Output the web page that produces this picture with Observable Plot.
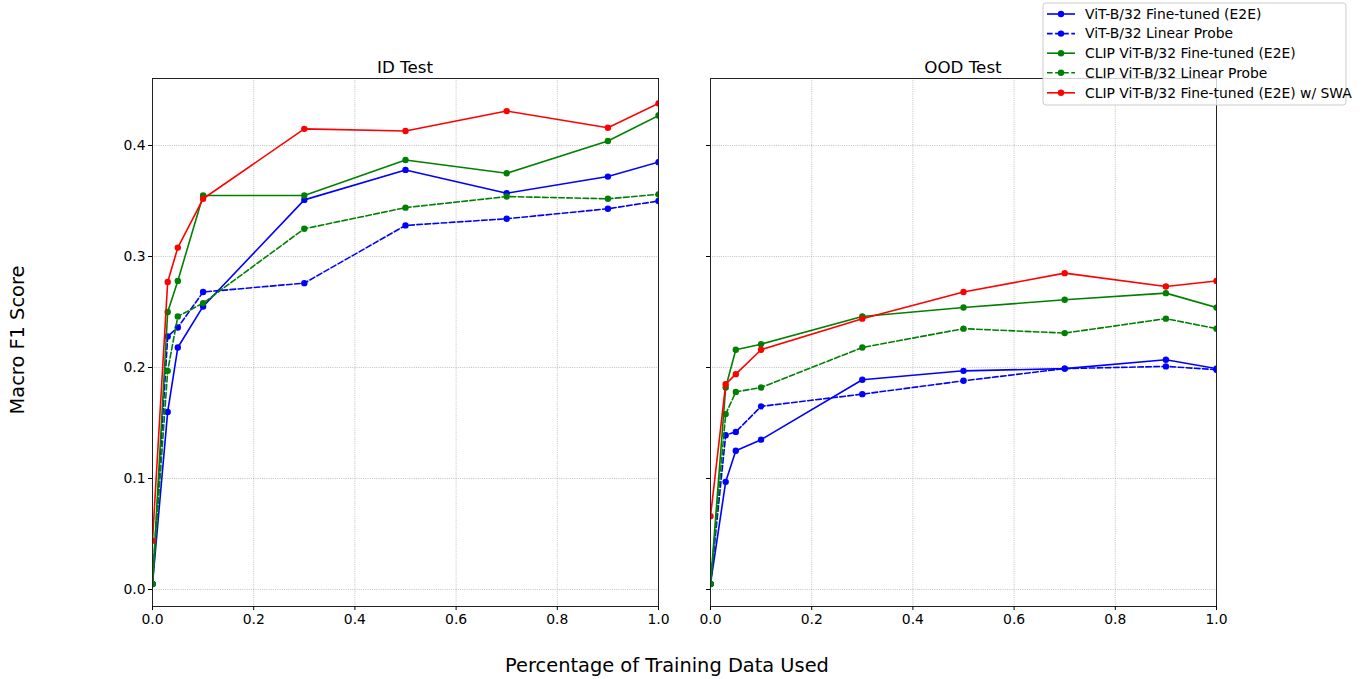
<!DOCTYPE html>
<html><head><meta charset="utf-8">
<script src="https://cdn.jsdelivr.net/npm/d3@7"></script>
<script src="https://cdn.jsdelivr.net/npm/@observablehq/plot@0.6"></script>
<style>
body{margin:0;background:#fff;font-family:"DejaVu Sans",sans-serif;}
#wrap{position:relative;width:1364px;height:679px;overflow:hidden;background:#fff;}
.panel{position:absolute;}
#overlay{position:absolute;left:0;top:0;}
</style></head><body><div id="wrap"></div>
<script>
// ---- data ----
const fractions = [0, 0.03, 0.05, 0.1, 0.3, 0.5, 0.7, 0.9, 1.0];
const seriesNames = [
  "ViT-B/32 Fine-tuned (E2E)",
  "ViT-B/32 Linear Probe",
  "CLIP ViT-B/32 Fine-tuned (E2E)",
  "CLIP ViT-B/32 Linear Probe",
  "CLIP ViT-B/32 Fine-tuned (E2E) w/ SWA"
];
const seriesColors = ["blue", "blue", "green", "green", "red"];
const seriesDashed = [false, true, false, true, false];

const idVitFT   = [0.005, 0.160, 0.218, 0.255, 0.351, 0.378, 0.357, 0.372, 0.385];
const idVitLP   = [0.005, 0.228, 0.236, 0.268, 0.276, 0.328, 0.334, 0.343, 0.350];
const idClipFT  = [0.005, 0.250, 0.278, 0.355, 0.355, 0.387, 0.375, 0.404, 0.427];
const idClipLP  = [0.005, 0.197, 0.246, 0.258, 0.325, 0.344, 0.354, 0.352, 0.356];
const idClipSWA = [0.044, 0.277, 0.308, 0.352, 0.415, 0.413, 0.431, 0.416, 0.438];

const oodVitFT   = [0.005, 0.097, 0.125, 0.135, 0.189, 0.197, 0.199, 0.207, 0.199];
const oodVitLP   = [0.005, 0.139, 0.142, 0.165, 0.176, 0.188, 0.199, 0.201, 0.198];
const oodClipFT  = [0.005, 0.182, 0.216, 0.221, 0.246, 0.254, 0.261, 0.267, 0.254];
const oodClipLP  = [0.005, 0.158, 0.178, 0.182, 0.218, 0.235, 0.231, 0.244, 0.235];
const oodClipSWA = [0.066, 0.185, 0.194, 0.216, 0.244, 0.268, 0.285, 0.273, 0.278];

const panelTitles = ["ID Test", "OOD Test"];
const xTicks = [0, 0.2, 0.4, 0.6, 0.8, 1.0];
const yTicks = [0, 0.1, 0.2, 0.3, 0.4];
const xLabel = "Percentage of Training Data Used";
const yLabel = "Macro F1 Score";

// ---- layout ----
const FONT = "DejaVu Sans, sans-serif";
const plotW = 506, plotH = 528;
const mL = 40, mR = 10, mT = 10, mB = 30;
const panelLeft = [152, 710];
const panelTop = 78;
const yDomain = [-0.01532, 0.46036];
const dash = "5.6,2.5";
const lw = 1.6, dotR = 3.2;

function rowsFor(values, s) {
  return fractions.map((f, i) => ({x: f, y: values[i], series: seriesNames[s]}));
}

function makePanel(seriesValues, showYLabels) {
  const marks = [
    Plot.gridX(xTicks, {stroke: "#a8a8a8", strokeOpacity: 1, strokeWidth: 0.7, strokeDasharray: "1,1.2"}),
    Plot.gridY(yTicks, {stroke: "#a8a8a8", strokeOpacity: 1, strokeWidth: 0.7, strokeDasharray: "1,1.2"})
  ];
  seriesValues.forEach((vals, s) => {
    const data = rowsFor(vals, s);
    marks.push(Plot.line(data, {x: "x", y: "y", stroke: seriesColors[s], strokeWidth: lw,
      strokeDasharray: seriesDashed[s] ? dash : null, clip: true}));
    marks.push(Plot.dot(data, {x: "x", y: "y", fill: seriesColors[s], r: dotR, clip: true}));
  });
  marks.push(Plot.frame({stroke: "#222", strokeWidth: 1}));
  marks.push(Plot.axisX({ticks: xTicks, tickSize: 4, tickPadding: 4, tickFormat: d3.format(".1f"), label: null}));
  marks.push(Plot.axisY({ticks: yTicks, tickSize: 4, tickPadding: 3,
    tickFormat: showYLabels ? d3.format(".1f") : () => "", label: null}));
  return Plot.plot({
    width: mL + plotW + mR, height: mT + plotH + mB,
    marginLeft: mL, marginRight: mR, marginTop: mT, marginBottom: mB,
    x: {domain: [0, 1]},
    y: {domain: yDomain},
    style: {fontFamily: FONT, fontSize: "13.9px", color: "black", background: "transparent", overflow: "visible"},
    marks
  });
}

const wrap = document.getElementById("wrap");
const panels = [
  [idVitFT, idVitLP, idClipFT, idClipLP, idClipSWA],
  [oodVitFT, oodVitLP, oodClipFT, oodClipLP, oodClipSWA]
];
panels.forEach((vals, p) => {
  const div = document.createElement("div");
  div.className = "panel";
  div.style.left = (panelLeft[p] - mL) + "px";
  div.style.top = (panelTop - mT) + "px";
  div.appendChild(makePanel(vals, p === 0));
  wrap.appendChild(div);
});

// ---- overlay: titles, axis labels, legend ----
const svg = d3.create("svg").attr("id", "overlay").attr("width", 1364).attr("height", 679)
  .style("font-family", FONT);
panelTitles.forEach((t, p) => {
  svg.append("text").attr("x", panelLeft[p] + plotW / 2).attr("y", panelTop - 5)
    .attr("text-anchor", "middle").attr("font-size", "16.7px").attr("fill", "black").text(t);
});
svg.append("text").attr("x", 667).attr("y", 672).attr("text-anchor", "middle")
  .attr("font-size", "19.4px").attr("fill", "black").text(xLabel);
svg.append("text").attr("transform", "translate(24,340) rotate(-90)").attr("text-anchor", "middle")
  .attr("font-size", "19.4px").attr("fill", "black").text(yLabel);

const lg = svg.append("g");
lg.append("rect").attr("x", 1043).attr("y", 3).attr("width", 303).attr("height", 102).attr("rx", 3)
  .attr("fill", "white").attr("fill-opacity", 0.8).attr("stroke", "#cccccc").attr("stroke-width", 1);
const rowY = [14, 33.6, 53.2, 72.8, 92.8];
seriesNames.forEach((name, s) => {
  const y = rowY[s];
  lg.append("line").attr("x1", 1047).attr("x2", 1075).attr("y1", y).attr("y2", y)
    .attr("stroke", seriesColors[s]).attr("stroke-width", lw)
    .attr("stroke-dasharray", seriesDashed[s] ? dash : null);
  lg.append("circle").attr("cx", 1061).attr("cy", y).attr("r", dotR).attr("fill", seriesColors[s]);
  lg.append("text").attr("x", 1085).attr("y", y).attr("dy", "0.35em").attr("font-size", "13.9px")
    .attr("fill", "black").text(name);
});
wrap.appendChild(svg.node());
</script></body></html>
